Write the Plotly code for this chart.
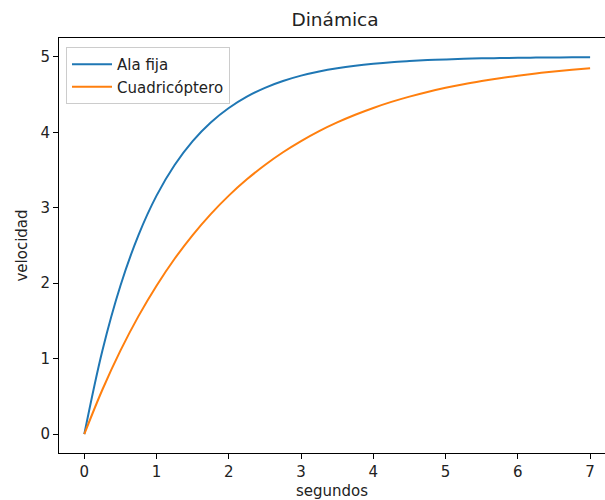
import plotly.graph_objects as go

t = [0, 0.25, 0.5, 0.75, 1, 1.25, 1.5, 1.75, 2, 2.25, 2.5, 2.75, 3, 3.25, 3.5,
     3.75, 4, 4.25, 4.5, 4.75, 5, 5.25, 5.5, 5.75, 6, 6.25, 6.5, 6.75, 7]
ala_fija = [0, 1.106, 1.967, 2.638, 3.161, 3.567, 3.884, 4.131, 4.323, 4.473, 4.590,
            4.680, 4.751, 4.806, 4.849, 4.882, 4.908, 4.929, 4.944, 4.957, 4.966,
            4.974, 4.980, 4.984, 4.988, 4.990, 4.992, 4.994, 4.995]
cuadricoptero = [0, 0.588, 1.106, 1.564, 1.967, 2.324, 2.638, 2.916, 3.161, 3.377,
                 3.567, 3.736, 3.884, 4.016, 4.131, 4.233, 4.323, 4.403, 4.473, 4.535,
                 4.590, 4.638, 4.680, 4.718, 4.751, 4.780, 4.806, 4.829, 4.849]
x_ticks = [0, 1, 2, 3, 4, 5, 6, 7]
y_ticks = [0, 1, 2, 3, 4, 5]

FONT = "DejaVu Sans"
W, H = 605, 500
L, R, T, B = 59, 0, 38, 47

fig = go.Figure()
fig.add_trace(go.Scatter(x=t, y=ala_fija, mode="lines", name="Ala fija",
                         line=dict(color="#1f77b4", width=2, shape="spline")))
fig.add_trace(go.Scatter(x=t, y=cuadricoptero, mode="lines", name="Cuadricóptero",
                         line=dict(color="#ff7f0e", width=2, shape="spline")))

axis_common = dict(showgrid=False, zeroline=False, showline=True, linecolor="black",
                   linewidth=1, ticks="outside", ticklen=5, tickwidth=1, tickcolor="black",
                   tickfont=dict(family=FONT, size=15, color="#222"))

fig.update_layout(
    width=W, height=H,
    margin=dict(l=L, r=R, t=T, b=B),
    paper_bgcolor="white", plot_bgcolor="white",
    font=dict(family=FONT, size=15, color="black"),
    title=dict(text="Dinámica", x=335 / W, xref="container", xanchor="center",
               y=1 - 20 / H, yref="container", yanchor="middle",
               font=dict(family=FONT, size=18.5, color="#222")),
    xaxis=dict(range=[-0.35, (W - 84) / 72.3], tickvals=x_ticks, mirror=True,
               title=dict(text="segundos", standoff=5, font=dict(family=FONT, size=15, color="#222")),
               **axis_common),
    yaxis=dict(range=[-0.25, 5.25], tickvals=y_ticks,
               title=dict(text="velocidad", standoff=9, font=dict(family=FONT, size=15, color="#222")),
               **axis_common),
    legend=dict(x=(66 - L) / (W - L - R), y=1 - (47 - T) / (H - T - B),
                xanchor="left", yanchor="top", itemwidth=40,
                bgcolor="rgba(255,255,255,0.8)", bordercolor="#cccccc", borderwidth=1,
                font=dict(family=FONT, size=15, color="#222")),
    showlegend=True,
)

fig.write_html("out.html")
